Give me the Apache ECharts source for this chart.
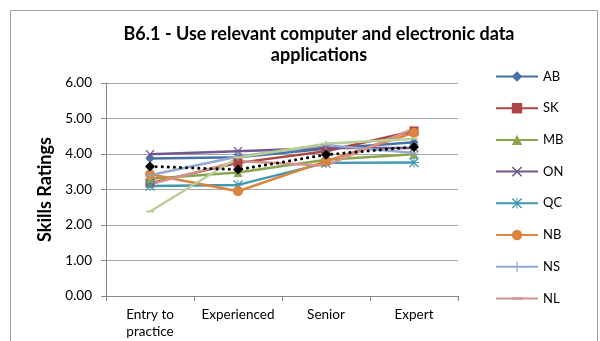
<!DOCTYPE html>
<html><head><meta charset="utf-8">
<script src="https://cdn.jsdelivr.net/npm/echarts@6/dist/echarts.min.js"></script>
<style>html,body{margin:0;padding:0;background:#fff}#c{width:600px;height:341px}</style>
</head><body><div id="c"></div>
<script>
const categories = ['Entry to\npractice', 'Experienced', 'Senior', 'Expert'];
const yTicks = [0, 1, 2, 3, 4, 5, 6];
const AB = [3.87, 3.91, 4.15, 4.33];
const SK = [3.18, 3.75, 4.08, 4.65];
const MB = [3.30, 3.48, 3.84, 3.99];
const ON = [3.99, 4.08, 4.17, 4.17];
const QC = [3.10, 3.13, 3.75, 3.76];
const NB = [3.43, 2.95, 3.80, 4.60];
const NS = [3.40, 3.93, 4.25, 4.03];
const NL = [3.15, 3.80, 3.67, 4.72];
const PE = [2.38, 3.90, 4.29, 4.43];
const Average = [3.65, 3.56, 3.98, 4.20];

const xPath = 'path://M0,1 L1,0 L5,4 L9,0 L10,1 L6,5 L10,9 L9,10 L5,6 L1,10 L0,9 L4,5 Z';
const starPath = 'path://M0,1 L1,0 L4.5,3.5 L4.5,0 L5.5,0 L5.5,3.5 L9,0 L10,1 L6.2,4.5 L10,4.5 L10,5.5 L6.2,5.5 L10,9 L9,10 L5.5,6.5 L5.5,10 L4.5,10 L4.5,6.5 L1,10 L0,9 L3.8,5.5 L0,5.5 L0,4.5 L3.8,4.5 Z';
const plusPath = 'path://M4.4,0 L5.6,0 L5.6,4.4 L10,4.4 L10,5.6 L5.6,5.6 L5.6,10 L4.4,10 L4.4,5.6 L0,5.6 L0,4.4 L4.4,4.4 Z';
const dashPath = 'path://M0,0 L0.01,0 L0,0.01 Z M9.99,10 L10,10 L10,9.99 Z M0,3.8 L10,3.8 L10,6.2 L0,6.2 Z';

function s(name, data, color, symbol, size, extra) {
  return Object.assign({
    name, type: 'line', data, symbol, symbolSize: size,
    lineStyle: { color, width: 2.5 },
    itemStyle: { color },
    z: 3
  }, extra || {});
}

const series = [
  s('AB', AB, '#4572A7', 'diamond', 9),
  s('SK', SK, '#AA4643', 'rect', 9),
  s('MB', MB, '#89A54E', 'triangle', 9),
  s('ON', ON, '#71588F', xPath, 9),
  s('QC', QC, '#4198AF', starPath, 10),
  s('NB', NB, '#DB843D', 'circle', 10),
  s('NS', NS, '#93A9CF', plusPath, 9),
  s('NL', NL, '#D19392', dashPath, 1, { showSymbol: false }),
  s('PE', PE, '#B9CD96', dashPath, 8),
  s('Average', Average, '#000000', 'diamond', 10, { lineStyle: { color: '#000', width: 3, type: [0.1, 6], cap: 'round' }, z: 5 })
];

const chart = echarts.init(document.getElementById('c'), null, { renderer: 'canvas' });
chart.setOption({
  animation: false,
  backgroundColor: '#fff',
  textStyle: { fontFamily: 'Lato' },
  title: {
    text: 'B6.1 - Use relevant computer and electronic data\napplications',
    left: 314, top: 19, textAlign: 'center',
    textStyle: { fontFamily: 'Lato', fontWeight: 'bold', fontSize: 18, lineHeight: 21, color: '#000' }
  },
  graphic: [{
    type: 'rect', shape: { x: 10.5, y: 10.5, width: 587, height: 340 },
    style: { fill: 'none', stroke: '#A0A0A0', lineWidth: 1 }, z: -1
  }],
  legend: {
    data: ['AB', 'SK', 'MB', 'ON', 'QC', 'NB', 'NS', 'NL'],
    orient: 'vertical', left: 490, top: 65, itemGap: 18.7,
    itemWidth: 42, itemHeight: 13,
    textStyle: { fontFamily: 'Lato', fontSize: 13, color: '#000' }
  },
  grid: { left: 106, right: 142, top: 83, bottom: 45 },
  xAxis: {
    type: 'category', data: categories, boundaryGap: true,
    axisLine: { lineStyle: { color: '#868686' } },
    axisTick: { show: true, length: 5, lineStyle: { color: '#868686' } },
    axisLabel: { color: '#000', fontSize: 13.5, lineHeight: 17, margin: 10, interval: 0, fontFamily: 'Lato' }
  },
  yAxis: {
    type: 'value', min: yTicks[0], max: yTicks[yTicks.length - 1], interval: 1,
    name: 'Skills Ratings', nameLocation: 'middle', nameGap: 48, nameRotate: 90,
    nameTextStyle: { fontWeight: 'bold', fontSize: 18, color: '#000', fontFamily: 'Lato' },
    axisLine: { show: true, lineStyle: { color: '#868686' } },
    axisTick: { show: true, length: 5, inside: false, lineStyle: { color: '#868686' } },
    axisLabel: { color: '#000', fontSize: 13.5, margin: 14, fontFamily: 'Lato', formatter: v => v.toFixed(2) },
    splitLine: { lineStyle: { color: '#A6A6A6', width: 1 } }
  },
  series
});
</script></body></html>
